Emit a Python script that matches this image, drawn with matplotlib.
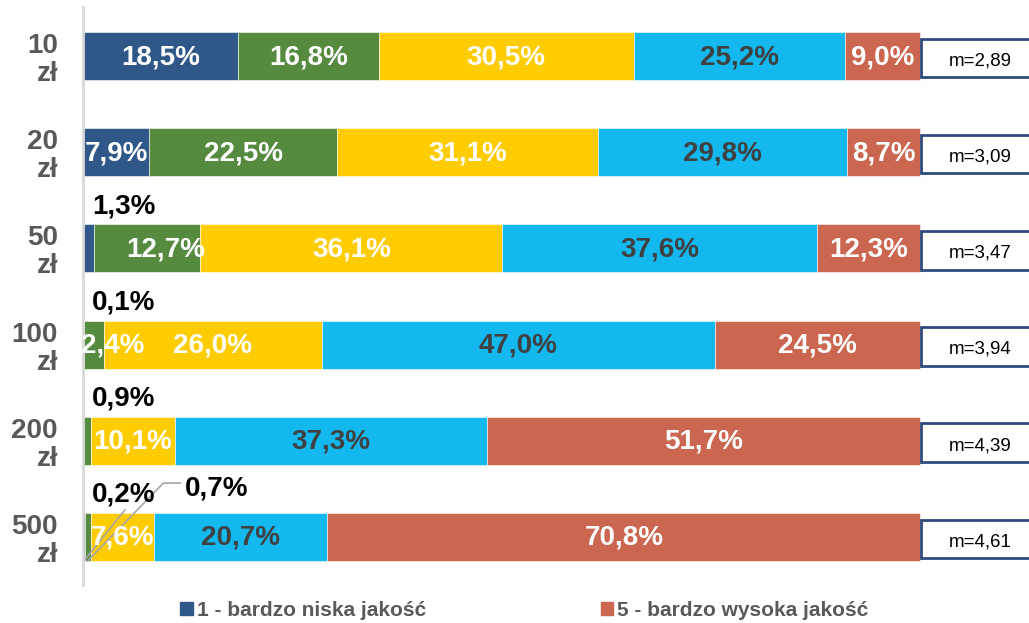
import matplotlib.pyplot as plt
from matplotlib.patches import Patch, Rectangle
import numpy as np

plt.rcParams['font.family'] = ['Liberation Sans', 'DejaVu Sans']

rows = ['10\nzł', '20\nzł', '50\nzł', '100\nzł', '200\nzł', '500\nzł']
series = ['1 - bardzo niska jakość', '2', '3', '4', '5 - bardzo wysoka jakość']
s1 = [18.5, 7.9, 1.3, 0.1, 0.0, 0.2]
s2 = [16.8, 22.5, 12.7, 2.4, 0.9, 0.7]
s3 = [30.5, 31.1, 36.1, 26.0, 10.1, 7.6]
s4 = [25.2, 29.8, 37.6, 47.0, 37.3, 20.7]
s5 = [9.0, 8.7, 12.3, 24.5, 51.7, 70.8]
means = ['2,89', '3,09', '3,47', '3,94', '4,39', '4,61']

colors = ['#2F5889', '#568A3F', '#FFCC00', '#12B8EE', '#CB6650']
txt_colors = ['white', 'white', 'white', '#404040', 'white']

# manual label nudges (row, series) -> x shift in %
inside_shift = {(2, 1): 2.2, (3, 1): 2.2}
# labels placed above the bar: (row, series) -> (x, dy)
above_pos = {(5, 1): (12.2, -0.5)}

fig = plt.figure(figsize=(10.29, 6.23), dpi=100)
ax = fig.add_axes([83 / 1029, 38 / 623, 1 - 83 / 1029, 578 / 623])

data = np.array([s1, s2, s3, s4, s5])
y = np.arange(len(rows))
left = np.zeros(len(rows))
for i, vals in enumerate(data):
    ax.barh(y, vals, left=left, height=0.5, color=colors[i],
            edgecolor='white', linewidth=0.4, label=series[i])
    for r, v in enumerate(vals):
        if v == 0:
            continue
        lab = f'{v:.1f}%'.replace('.', ',')
        if v < 2:
            x, dy = above_pos.get((r, i), (1.1, -0.44))
            ax.text(x, r + dy, lab, ha='left', va='center', fontsize=20,
                    fontweight='bold', color='black')
        else:
            xc = left[r] + v / 2 + inside_shift.get((r, i), 0)
            ax.text(xc, r + 0.01, lab, ha='center', va='center', fontsize=20,
                    fontweight='bold', color=txt_colors[i])
    left += vals

# leader lines for the 500 zł row
r = 5
ax.plot([5.0, s1[r] / 2], [r - 0.28, r + 0.25], color='#A6A6A6', lw=1.2)
ax.plot([11.6, 9.6, s1[r] + s2[r] / 2], [r - 0.56, r - 0.56, r + 0.25],
        color='#A6A6A6', lw=1.2)

# mean boxes
for r, m in enumerate(means):
    ax.add_patch(Rectangle((100.1, r - 0.18), 20, 0.4, facecolor='white',
                           edgecolor='#2F4B7C', lw=2))
    ax.text(107.2, r + 0.05, f'm={m}', ha='center', va='center', fontsize=13.5,
            color='black')

ax.set_xlim(0, 113)
ax.set_ylim(5.5, -0.51)
ax.set_xticks([])
ax.set_yticks(y)
ax.set_yticklabels(rows, fontsize=20, fontweight='bold', color='#595959',
                   linespacing=1.1)
ax.tick_params(axis='y', length=0, pad=18)
for sp in ['top', 'right', 'bottom']:
    ax.spines[sp].set_visible(False)
ax.spines['left'].set_color('#D9D9D9')
ax.spines['left'].set_linewidth(2)

handles = [Patch(color=colors[0]), Patch(color=colors[4])]
fig.legend(handles, [series[0], series[4]], loc='center left',
           bbox_to_anchor=(180 / 1029, 1 - 610 / 623), ncol=2, frameon=False,
           prop={'size': 15, 'weight': 'bold'}, labelcolor='#595959',
           handlelength=0.6, handleheight=0.6, handletextpad=0.2,
           columnspacing=8.4, borderpad=0, borderaxespad=0)

fig.savefig('out.png', dpi=100)
